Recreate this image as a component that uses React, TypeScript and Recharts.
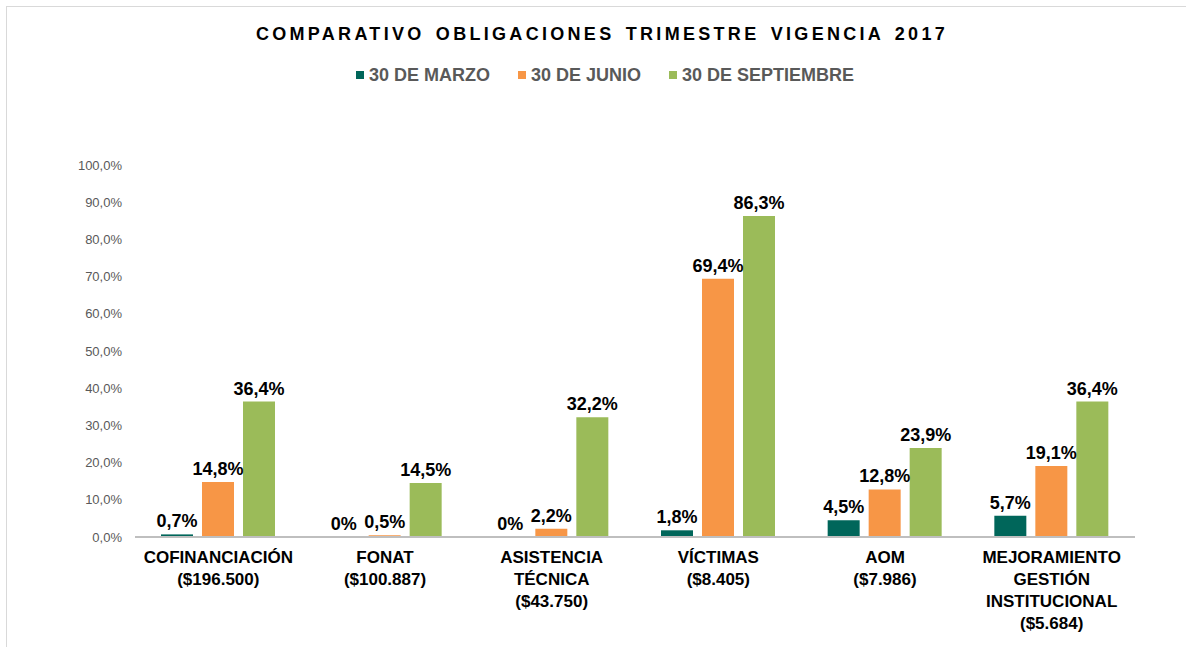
import React from 'react';
import { BarChart, Bar, XAxis, YAxis, Legend, LabelList } from 'recharts';

const categories = [
  'COFINANCIACIÓN\n($196.500)',
  'FONAT\n($100.887)',
  'ASISTENCIA\nTÉCNICA\n($43.750)',
  'VÍCTIMAS\n($8.405)',
  'AOM\n($7.986)',
  'MEJORAMIENTO\nGESTIÓN\nINSTITUCIONAL\n($5.684)',
];
const marzo = [0.7, 0, 0, 1.8, 4.5, 5.7];
const junio = [14.8, 0.5, 2.2, 69.4, 12.8, 19.1];
const septiembre = [36.4, 14.5, 32.2, 86.3, 23.9, 36.4];
const yTicks = [0, 10, 20, 30, 40, 50, 60, 70, 80, 90, 100];
const seriesOrder = ['marzo', 'junio', 'septiembre'];

const data = categories.map((name, i) => ({
  name,
  marzo: marzo[i],
  junio: junio[i],
  septiembre: septiembre[i],
}));

const FONT = '"Liberation Sans", Arial, sans-serif';

const fmtTick = (v: number) => v.toFixed(1).replace('.', ',') + '%';
const fmtLabel = (v: any) => (Number(v) === 0 ? '0%' : Number(v).toFixed(1).replace('.', ',') + '%');
// zero bars get a tiny non-visible height so their "0%" label is still drawn
const keepZero = (v: any) => (Number(v) === 0 ? 0.01 : 0);

function CategoryTick({ x, y, payload }: any) {
  const lines = String(payload.value).split('\n');
  return (
    <text x={x} y={y} textAnchor="middle" fill="#000" fontFamily={FONT} fontSize={17} fontWeight="bold">
      {lines.map((l, i) => (
        <tspan key={i} x={x} dy={i === 0 ? 26 : 22}>
          {l}
        </tspan>
      ))}
    </text>
  );
}

function LegendContent({ payload }: any) {
  const items = [...(payload || [])].sort(
    (a: any, b: any) => seriesOrder.indexOf(a.dataKey) - seriesOrder.indexOf(b.dataKey)
  );
  return (
    <div style={{ height: 30, display: 'flex', justifyContent: 'center', alignItems: 'center', fontFamily: FONT }}>
      {items.map((p: any, i: number) => (
        <div key={i} style={{ display: 'flex', alignItems: 'center', margin: '0 14px' }}>
          <span style={{ width: 8, height: 8, background: p.color, display: 'inline-block', marginRight: 5 }} />
          <span style={{ fontSize: 18, fontWeight: 'bold', color: '#595959' }}>{p.value}</span>
        </div>
      ))}
    </div>
  );
}

const labelStyle = { fontFamily: FONT, fontSize: 18, fontWeight: 'bold' as const, fill: '#000' };

export default function App() {
  return (
    <div style={{ position: 'absolute', left: 0, top: 0, width: 1186, height: 647, overflow: 'hidden', background: '#fff' }}>
      <div
        style={{
          position: 'absolute',
          left: 6,
          top: 6,
          width: 1200,
          height: 700,
          border: '1px solid #d9d9d9',
        }}
      />
      <div
        style={{
          position: 'absolute',
          top: 24,
          left: 0,
          width: 1204,
          textAlign: 'center',
          fontFamily: FONT,
          fontSize: 18,
          fontWeight: 'bold',
          letterSpacing: '3.3px',
          wordSpacing: '3px',
          color: '#000',
        }}
      >
        COMPARATIVO OBLIGACIONES TRIMESTRE VIGENCIA 2017
      </div>
      <div style={{ position: 'absolute', left: 0, top: 0 }}>
        <BarChart
          width={1186}
          height={647}
          data={data}
          margin={{ top: 135, right: 51, bottom: 0, left: 0 }}
          barSize={32}
          barGap={9}
        >
          <Legend
            verticalAlign="top"
            content={<LegendContent />}
            wrapperStyle={{ top: 60, left: 0, width: 1210 }}
          />
          <YAxis
            domain={[0, 100]}
            ticks={yTicks}
            tickFormatter={fmtTick}
            width={135}
            axisLine={false}
            tickLine={false}
            tickSize={0}
            tickMargin={13}
            tick={{ fill: '#595959', fontSize: 13, fontFamily: FONT }}
            interval={0}
          />
          <XAxis
            dataKey="name"
            height={110}
            interval={0}
            tickLine={false}
            tickSize={0}
            tickMargin={0}
            axisLine={{ stroke: '#bfbfbf', strokeWidth: 2 }}
            tick={<CategoryTick />}
          />
          <Bar dataKey="marzo" name="30 DE MARZO" fill="#00665A" minPointSize={keepZero} isAnimationActive={false}>
            <LabelList dataKey="marzo" position="top" offset={7} formatter={fmtLabel} style={labelStyle} />
          </Bar>
          <Bar dataKey="junio" name="30 DE JUNIO" fill="#F79646" minPointSize={keepZero} isAnimationActive={false}>
            <LabelList dataKey="junio" position="top" offset={7} formatter={fmtLabel} style={labelStyle} />
          </Bar>
          <Bar dataKey="septiembre" name="30 DE SEPTIEMBRE" fill="#9BBB59" minPointSize={keepZero} isAnimationActive={false}>
            <LabelList dataKey="septiembre" position="top" offset={7} formatter={fmtLabel} style={labelStyle} />
          </Bar>
        </BarChart>
      </div>
    </div>
  );
}
